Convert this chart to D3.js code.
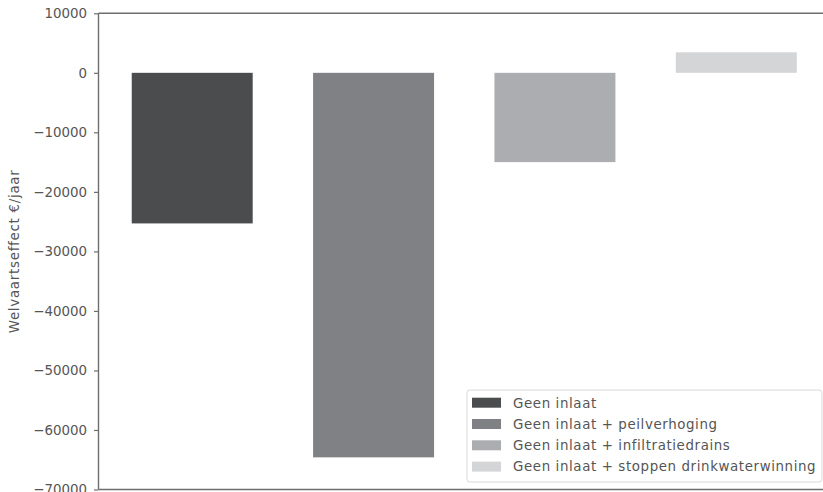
<!DOCTYPE html>
<html><head><meta charset="utf-8">
<script src="https://cdn.jsdelivr.net/npm/d3@7"></script>
<style>body{margin:0;background:#fff}svg{display:block}text{font-family:"DejaVu Sans",sans-serif}</style>
</head><body>
<script>
const categories = ["Geen inlaat","Geen inlaat + peilverhoging","Geen inlaat + infiltratiedrains","Geen inlaat + stoppen drinkwaterwinning"];
const values = [-25300,-64600,-15000,3450];
const colors = ["#4b4c4e","#808184","#acadb0","#d4d5d7"];
const yTicks = [10000,0,-10000,-20000,-30000,-40000,-50000,-60000,-70000];
const yLabel = "Welvaartseffect €/jaar";

const W=823,H=492;
const svg=d3.select("body").append("svg").attr("width",W).attr("height",H);
const L=98.5, T=13.3, B=489.5, R=830;
const y=d3.scaleLinear().domain([-70000,10000]).range([B,T]);
const barW=0.667;
const x=d3.scaleLinear().domain([-0.5-0.0167, 3.5+0.0167]).range([L,R]);
const txt="#555", ax="#6e6e6e", fs=13.4;

svg.selectAll("rect.bar").data(values).enter().append("rect")
 .attr("x",(d,i)=>x(i-barW/2)).attr("width",(d,i)=>x(i+barW/2)-x(i-barW/2))
 .attr("y",d=>y(Math.max(0,d))).attr("height",d=>Math.abs(y(d)-y(0)))
 .attr("fill",(d,i)=>colors[i]);

const yAxis=d3.axisLeft(y).tickValues(yTicks).tickSize(4.5).tickPadding(7)
 .tickFormat(d=>d3.format("d")(d).replace("-","\u2212"));
const g=svg.append("g").attr("transform",`translate(${L},0)`).call(yAxis);
g.select(".domain").remove();
g.selectAll(".tick line").attr("stroke",ax).attr("stroke-width",1.2);
g.selectAll(".tick text").attr("fill",txt).style("font-size",fs+"px").style("font-family","DejaVu Sans");

// spines
svg.append("line").attr("x1",L).attr("x2",L).attr("y1",T).attr("y2",B).attr("stroke",ax).attr("stroke-width",1.4);
svg.append("line").attr("x1",L).attr("x2",W).attr("y1",T).attr("y2",T).attr("stroke",ax).attr("stroke-width",1.4);
svg.append("line").attr("x1",L).attr("x2",W).attr("y1",B).attr("y2",B).attr("stroke",ax).attr("stroke-width",1.4);

svg.append("text").attr("transform",`translate(19,${(T+B)/2}) rotate(-90)`)
 .attr("text-anchor","middle").attr("fill",txt).style("font-size",fs+"px")
 .style("letter-spacing","0.72px").text(yLabel);

// legend
const lg=svg.append("g");
lg.append("rect").attr("x",467).attr("y",390).attr("width",355).attr("height",92).attr("rx",3)
 .attr("fill","#fff").attr("stroke","#d8d8d8").attr("stroke-width",1);
categories.forEach((c,i)=>{
  const cy=402.7+i*21.3;
  lg.append("rect").attr("x",472).attr("y",cy-5).attr("width",29).attr("height",10).attr("fill",colors[i]);
  lg.append("text").attr("x",513).attr("y",cy).attr("dy","0.36em").attr("fill",txt).style("font-size",fs+"px")
   .style("letter-spacing","0.6px").text(c);
});
</script>
</body></html>
